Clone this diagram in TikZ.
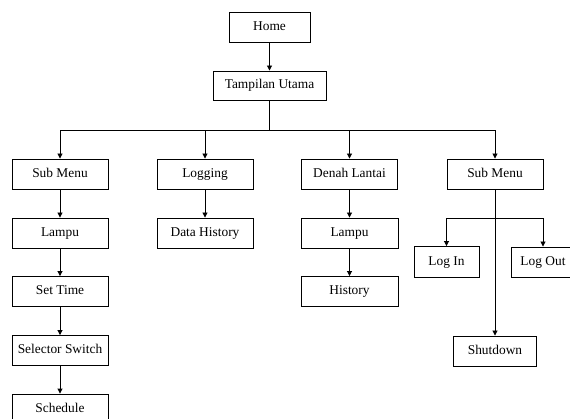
\documentclass[tikz,border=0pt]{standalone}
\usepackage{fontspec}
\setmainfont{Liberation Serif}
\usetikzlibrary{arrows.meta}
\begin{document}
\begin{tikzpicture}[x=1pt,y=-1pt,
  box/.style={draw, line width=0.9pt, minimum height=30pt, inner sep=0pt,
              text height=9.5pt, text depth=2.5pt,
              font=\fontsize{13.4}{16}\selectfont},
  wide/.style={box, minimum width=96pt},
  line/.style={line width=0.9pt},
  link/.style={line, -{Triangle[length=5pt,width=5pt]}}]
\clip (0,0) rectangle (570,419);
\fill[white] (0,0) rectangle (570,419);

% top of the tree
\node[box, minimum width=81pt] (home) at (269.5,27) {Home};
\node[box, minimum width=113pt, minimum height=29pt] (main) at (269.5,85.5) {Tampilan Utama};

% first level
\node[wide] (sub1) at (60,174) {Sub Menu};
\node[wide] (log)  at (205,174) {Logging};
\node[wide] (denah) at (349.5,174) {Denah Lantai};
\node[wide] (sub2) at (495,174) {Sub Menu};

% sub menu column
\node[wide] (lampu1) at (60,233) {Lampu};
\node[wide] (settime) at (60,291.5) {Set Time};
\node[wide] (selector) at (60,350.5) {Selector Switch};
\node[wide] (schedule) at (60,409) {Schedule};

% logging column
\node[wide] (datahist) at (205,233) {Data History};

% floor plan column
\node[wide, minimum width=97pt] (lampu2) at (349.5,233) {Lampu};
\node[wide, minimum width=97pt] (hist) at (349.5,291.5) {History};

% session column
\node[box, minimum width=65pt, minimum height=31pt] (login) at (446.5,262) {Log In};
\node[box, minimum width=64pt] (logout) at (543,262) {Log Out};
\node[box, minimum width=83pt] (shut) at (495,351) {Shutdown};

% connectors
\draw[link] (home) -- (main);
\draw[link] (main.south) -- ++(0,30) -| (sub1);
\draw[link] (main.south) -- ++(0,30) -| (log);
\draw[link] (main.south) -- ++(0,30) -| (denah);
\draw[link] (main.south) -- ++(0,30) -| (sub2);

\draw[link] (sub1) -- (lampu1);
\draw[link] (lampu1) -- (settime);
\draw[link] (settime) -- (selector);
\draw[link] (selector) -- (schedule);

\draw[link] (log) -- (datahist);

\draw[link] (denah) -- (lampu2);
\draw[link] (lampu2) -- (hist);

\draw[link] (sub2) -- (shut);
\draw[link] (sub2.south) -- ++(0,29) -| (login);
\draw[link] (sub2.south) -- ++(0,29) -| (logout);
\end{tikzpicture}
\end{document}
